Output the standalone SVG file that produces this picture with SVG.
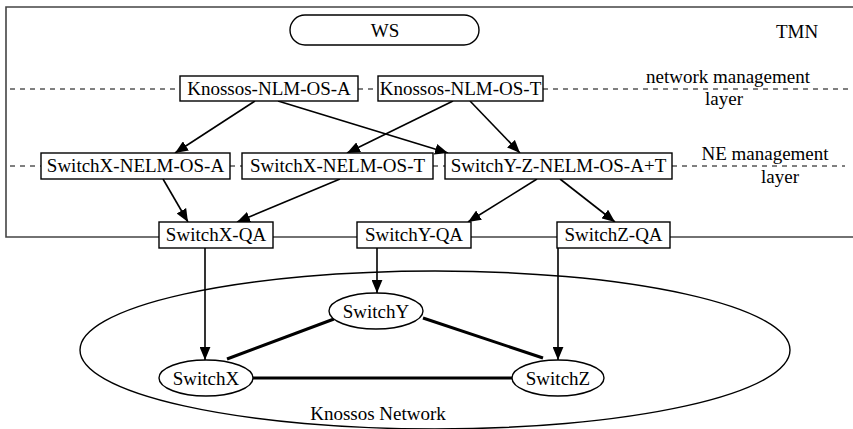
<svg xmlns="http://www.w3.org/2000/svg" width="853" height="429" viewBox="0 0 853 429">
<defs>
<marker id="ah" viewBox="0 0 12 10" refX="12" refY="5" markerWidth="13" markerHeight="11" markerUnits="userSpaceOnUse" orient="auto">
<path d="M0,0 L12,5 L0,10 z" fill="#000"/>
</marker>
<style>
text{font-family:"Liberation Serif","Times New Roman",serif;font-size:19px;fill:#000;text-anchor:middle}
.box{fill:#fff;stroke:#000;stroke-width:1.4}
.ell{fill:#fff;stroke:#000;stroke-width:1.4}
.dash{stroke:#000;stroke-width:1;stroke-dasharray:5,5;fill:none}
.border{stroke:#444;stroke-width:1.6;fill:none}
.arr{stroke:#000;stroke-width:1.6;fill:none;marker-end:url(#ah)}
.link{stroke:#000;stroke-width:3;fill:none}
</style>
</defs>
<rect width="853" height="429" fill="#fff"/>
<g id="tmn-border">
<path class="border" d="M853,7 L6,7 L6,237 L159,237 M273,237 L357,237 M471,237 L557,237 M670,237 L853,237"/>
<text x="797" y="38">TMN</text>
</g>
<g id="layers">
<path class="dash" d="M10,89 L180,89 M358,89 L378,89 M543,89 L850,89"/>
<text x="728" y="83">network management</text>
<text x="724" y="105">layer</text>
<path class="dash" d="M10,166 L41,166 M230,166 L242,166 M433,166 L445,166 M672,166 L845,166"/>
<text x="765" y="160">NE management</text>
<text x="780" y="183">layer</text>
</g>
<g id="knossos-network">
<ellipse class="ell" cx="435" cy="350" rx="355" ry="79" stroke="#444"/>
<text x="378" y="420">Knossos Network</text>
</g>
<g id="connectors">
<path class="arr" d="M255,101 L175,153"/>
<path class="arr" d="M278,101 L448,153"/>
<path class="arr" d="M453,101 L347,153"/>
<path class="arr" d="M470,101 L520,153"/>
<path class="arr" d="M163,179 L188,222"/>
<path class="arr" d="M340,179 L237,222"/>
<path class="arr" d="M537,179 L468,222"/>
<path class="arr" d="M560,179 L615,222"/>
<path class="arr" d="M205,248 L205,360"/>
<path class="arr" d="M377,248 L377,293"/>
<path class="arr" d="M558,248 L558,360"/>
<path class="link" d="M253,378 L512,378"/>
<path class="link" d="M334,319 L227,359"/>
<path class="link" d="M423,318 L543,358"/>
</g>
<g id="ws">
<rect class="box" x="290" y="15" width="189" height="30" rx="15" ry="15"/>
<text x="385" y="37">WS</text>
</g>
<g id="knossos-nlm-os-a">
<rect class="box" x="180" y="76" width="178" height="25"/>
<text x="269" y="95">Knossos-NLM-OS-A</text>
</g>
<g id="knossos-nlm-os-t">
<rect class="box" x="378" y="76" width="165" height="25"/>
<text x="460.5" y="95">Knossos-NLM-OS-T</text>
</g>
<g id="switchx-nelm-os-a">
<rect class="box" x="41" y="153" width="189" height="26"/>
<text x="135.5" y="172">SwitchX-NELM-OS-A</text>
</g>
<g id="switchx-nelm-os-t">
<rect class="box" x="242" y="153" width="191" height="26"/>
<text x="337.5" y="172">SwitchX-NELM-OS-T</text>
</g>
<g id="switchy-z-nelm-os-at">
<rect class="box" x="445" y="153" width="227" height="26"/>
<text x="558.5" y="172">SwitchY-Z-NELM-OS-A+T</text>
</g>
<g id="switchx-qa">
<rect class="box" x="159" y="222" width="114" height="26"/>
<text x="216" y="241">SwitchX-QA</text>
</g>
<g id="switchy-qa">
<rect class="box" x="357" y="222" width="114" height="26"/>
<text x="414" y="241">SwitchY-QA</text>
</g>
<g id="switchz-qa">
<rect class="box" x="557" y="222" width="113" height="26"/>
<text x="613.5" y="241">SwitchZ-QA</text>
</g>
<g id="switchy">
<ellipse class="ell" cx="376" cy="311" rx="47" ry="18"/>
<text x="376" y="318">SwitchY</text>
</g>
<g id="switchx">
<ellipse class="ell" cx="206" cy="378" rx="47" ry="18"/>
<text x="206" y="385">SwitchX</text>
</g>
<g id="switchz">
<ellipse class="ell" cx="558" cy="378" rx="46" ry="18"/>
<text x="558" y="385">SwitchZ</text>
</g>
</svg>
